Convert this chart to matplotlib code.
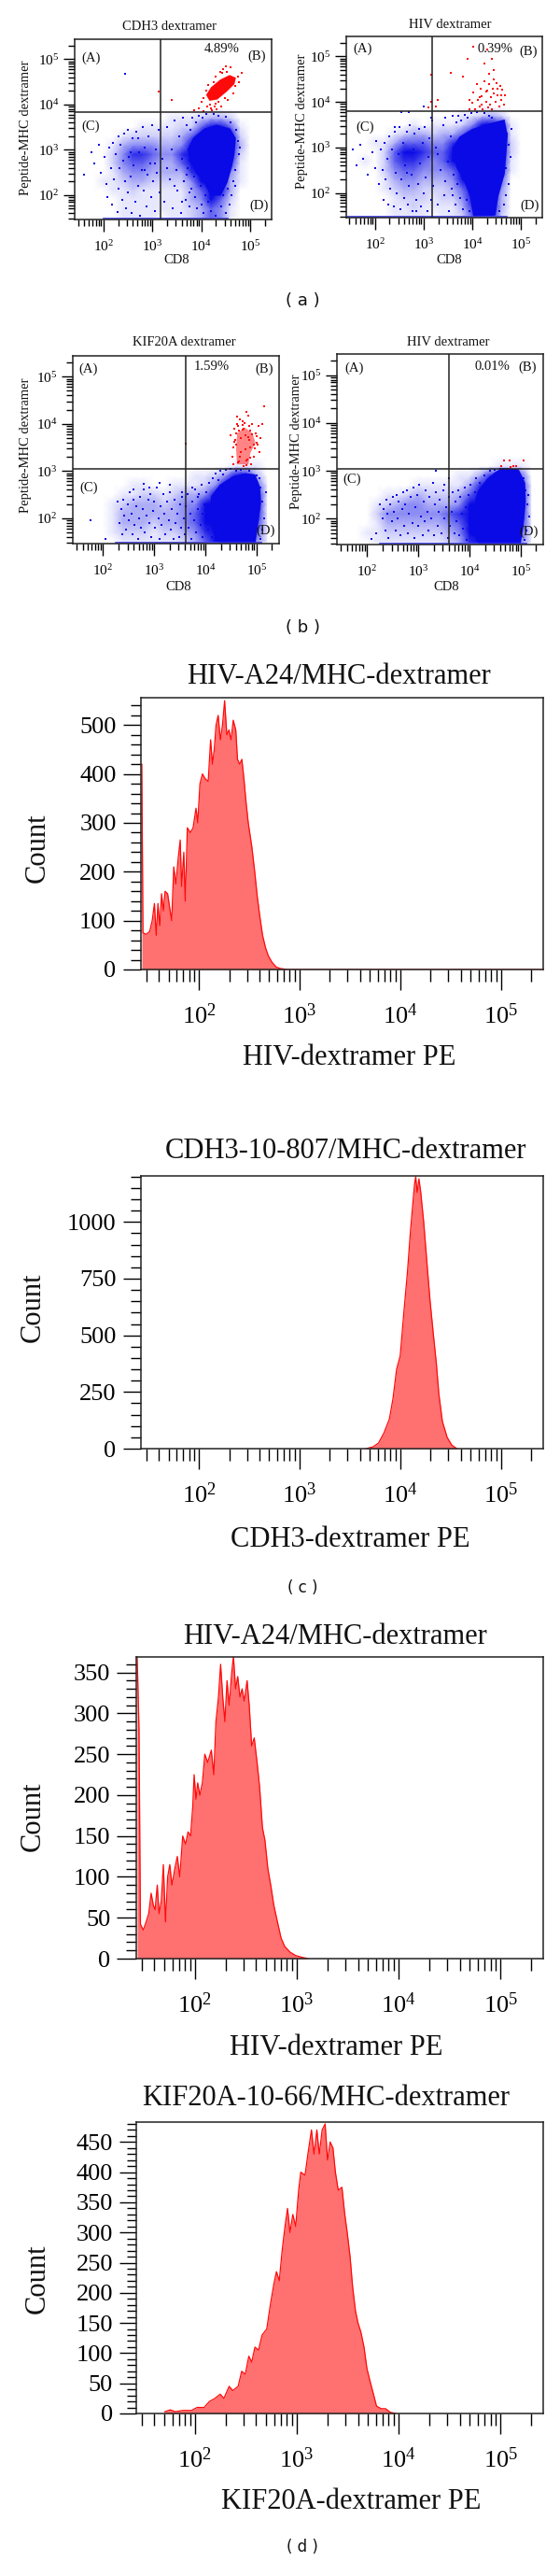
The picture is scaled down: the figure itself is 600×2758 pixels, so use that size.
import numpy as np
import matplotlib
matplotlib.use('Agg')
import matplotlib.pyplot as plt
from matplotlib.colors import LinearSegmentedColormap
from matplotlib.ticker import FixedLocator, NullFormatter

plt.rcParams['font.family'] = ['Liberation Serif', 'DejaVu Serif']
plt.rcParams['mathtext.fontset'] = 'custom'
plt.rcParams['mathtext.rm'] = 'Liberation Serif'
plt.rcParams['mathtext.default'] = 'regular'

W, H = 600, 2758
BLUE = '#0a0ae6'
RED = '#ff0a0a'

# ---- scatter data, all positions in log10 units ----
# density of the blue population, 0 (empty) to 9 (solid), estimated by eye
grid_x = [1.6, 1.8, 2.0, 2.2, 2.4, 2.6, 2.8, 3.0, 3.2, 3.4, 3.6, 3.8, 4.0, 4.2, 4.4, 4.6, 4.8, 5.0, 5.2]
grid_y = [1.5, 1.7, 1.9, 2.1, 2.3, 2.5, 2.7, 2.9, 3.1, 3.3, 3.5, 3.7, 3.9]
a1_density = [
    [0, 0, 0, 0, 1, 1, 1, 1, 0, 1, 1, 2, 3, 5, 4, 1, 0, 0, 0],
    [0, 0, 0, 0, 1, 1, 1, 1, 1, 1, 1, 2, 3, 5, 4, 1, 0, 0, 0],
    [0, 0, 0, 0, 1, 1, 1, 1, 1, 1, 1, 3, 4, 7, 5, 2, 0, 0, 0],
    [0, 0, 0, 1, 1, 2, 1, 1, 1, 1, 1, 3, 5, 9, 8, 3, 0, 0, 0],
    [0, 0, 1, 1, 2, 3, 3, 2, 2, 2, 2, 4, 7, 9, 9, 3, 1, 0, 0],
    [0, 0, 0, 1, 3, 4, 4, 3, 3, 3, 3, 6, 9, 9, 9, 4, 1, 0, 0],
    [0, 0, 0, 2, 4, 5, 5, 4, 3, 3, 5, 9, 9, 9, 9, 6, 1, 0, 0],
    [0, 0, 0, 2, 4, 6, 6, 5, 4, 4, 6, 9, 9, 9, 9, 8, 2, 0, 0],
    [0, 0, 0, 1, 3, 4, 4, 4, 3, 3, 4, 8, 9, 9, 9, 9, 3, 0, 0],
    [0, 0, 0, 0, 1, 2, 2, 2, 2, 2, 3, 5, 9, 9, 9, 9, 2, 0, 0],
    [0, 0, 0, 0, 0, 0, 1, 1, 1, 1, 2, 2, 5, 9, 9, 5, 1, 0, 0],
    [0, 0, 0, 0, 0, 0, 0, 0, 0, 1, 1, 1, 2, 3, 3, 2, 0, 0, 0],
    [0, 0, 0, 0, 0, 0, 0, 0, 0, 0, 0, 0, 0, 0, 0, 0, 0, 0, 0],
]
a2_density = [
    [0, 0, 0, 0, 1, 1, 1, 1, 0, 1, 1, 2, 5, 8, 7, 2, 0, 0, 0],
    [0, 0, 0, 0, 1, 1, 2, 1, 1, 1, 1, 3, 6, 9, 8, 3, 0, 0, 0],
    [0, 0, 0, 0, 1, 2, 2, 2, 1, 2, 2, 4, 7, 9, 9, 3, 0, 0, 0],
    [0, 0, 0, 1, 2, 3, 3, 2, 2, 2, 3, 5, 9, 9, 9, 4, 0, 0, 0],
    [0, 0, 0, 1, 3, 4, 4, 3, 3, 3, 4, 7, 9, 9, 9, 5, 0, 0, 0],
    [0, 0, 0, 2, 4, 5, 5, 4, 4, 4, 5, 9, 9, 9, 9, 6, 1, 0, 0],
    [0, 1, 0, 2, 5, 6, 6, 5, 4, 5, 7, 9, 9, 9, 9, 8, 1, 0, 0],
    [0, 0, 0, 2, 5, 7, 7, 6, 5, 5, 7, 9, 9, 9, 9, 9, 2, 0, 0],
    [0, 0, 1, 1, 3, 5, 5, 5, 4, 4, 6, 8, 9, 9, 9, 9, 2, 0, 0],
    [0, 0, 0, 0, 1, 2, 3, 3, 2, 3, 3, 5, 9, 9, 9, 9, 1, 0, 0],
    [0, 0, 0, 0, 0, 0, 1, 0, 1, 1, 1, 2, 4, 8, 9, 6, 1, 0, 0],
    [0, 0, 0, 0, 0, 0, 0, 0, 0, 0, 0, 1, 1, 2, 3, 2, 0, 0, 0],
    [0, 0, 0, 0, 0, 0, 0, 0, 0, 0, 0, 0, 0, 0, 0, 0, 0, 0, 0],
]
b1_density = [
    [0, 0, 0, 0, 1, 1, 1, 1, 1, 1, 2, 3, 5, 9, 9, 9, 9, 4, 1],
    [0, 0, 0, 1, 2, 2, 2, 1, 2, 2, 3, 4, 6, 9, 9, 9, 9, 5, 1],
    [0, 0, 0, 1, 3, 3, 3, 2, 3, 3, 4, 5, 7, 9, 9, 9, 9, 6, 1],
    [0, 0, 0, 1, 3, 3, 3, 3, 3, 3, 4, 5, 8, 9, 9, 9, 9, 7, 1],
    [0, 0, 0, 1, 2, 3, 3, 3, 2, 3, 4, 4, 7, 9, 9, 9, 9, 8, 1],
    [0, 0, 0, 0, 1, 1, 2, 2, 1, 2, 3, 3, 4, 8, 9, 9, 9, 7, 1],
    [0, 0, 0, 0, 0, 1, 1, 0, 0, 1, 1, 1, 2, 4, 9, 9, 9, 5, 1],
    [0, 0, 0, 0, 0, 0, 0, 0, 0, 0, 0, 1, 1, 2, 4, 9, 9, 3, 0],
    [0, 0, 0, 0, 0, 0, 0, 0, 0, 0, 0, 0, 0, 0, 0, 1, 1, 1, 0],
    [0, 0, 0, 0, 0, 0, 0, 0, 0, 0, 0, 0, 0, 0, 0, 0, 0, 0, 0],
    [0, 0, 0, 0, 0, 0, 0, 0, 0, 0, 0, 0, 0, 0, 0, 0, 0, 0, 0],
    [0, 0, 0, 0, 0, 0, 0, 0, 0, 0, 0, 0, 0, 0, 0, 0, 0, 0, 0],
    [0, 0, 0, 0, 0, 0, 0, 0, 0, 0, 0, 0, 0, 0, 0, 0, 0, 0, 0],
]
b2_density = [
    [0, 0, 0, 1, 1, 1, 1, 1, 1, 1, 2, 3, 6, 9, 9, 9, 9, 4, 1],
    [0, 0, 1, 1, 2, 2, 2, 2, 2, 2, 3, 4, 7, 9, 9, 9, 9, 5, 1],
    [0, 0, 0, 1, 3, 3, 3, 3, 3, 3, 4, 5, 8, 9, 9, 9, 9, 6, 1],
    [0, 0, 0, 2, 4, 4, 4, 4, 4, 4, 5, 6, 9, 9, 9, 9, 9, 7, 1],
    [0, 0, 0, 1, 2, 3, 4, 4, 3, 3, 3, 4, 8, 9, 9, 9, 9, 8, 1],
    [0, 0, 0, 0, 1, 1, 2, 3, 2, 2, 2, 3, 5, 9, 9, 9, 9, 7, 1],
    [0, 0, 0, 0, 0, 0, 0, 1, 1, 1, 1, 1, 3, 6, 9, 9, 9, 6, 1],
    [0, 0, 0, 0, 0, 0, 0, 0, 0, 0, 0, 1, 1, 3, 6, 9, 9, 5, 0],
    [0, 0, 0, 0, 0, 0, 0, 0, 0, 0, 0, 0, 0, 0, 0, 1, 1, 1, 0],
    [0, 0, 0, 0, 0, 0, 0, 0, 0, 0, 0, 0, 0, 0, 0, 0, 0, 0, 0],
    [0, 0, 0, 0, 0, 0, 0, 0, 0, 0, 0, 0, 0, 0, 0, 0, 0, 0, 0],
    [0, 0, 0, 0, 0, 0, 0, 0, 0, 0, 0, 0, 0, 0, 0, 0, 0, 0, 0],
    [0, 0, 0, 0, 0, 0, 0, 0, 0, 0, 0, 0, 0, 0, 0, 0, 0, 0, 0],
]

a1_blob_x = [4.32, 4.58, 4.69, 4.66, 4.61, 4.52, 4.39, 4.20, 4.07, 3.91, 3.78, 3.74, 3.85, 4.07]
a1_blob_y = [3.53, 3.45, 3.25, 2.90, 2.63, 2.29, 2.01, 2.01, 2.29, 2.49, 2.77, 3.01, 3.25, 3.45]
a1_dots_x = [1.60, 1.75, 1.82, 1.90, 1.95, 2.02, 2.05, 2.08, 2.12, 2.15, 2.18, 2.20, 2.22, 2.25, 2.28, 2.30, 2.30, 2.33, 2.35,
             2.38, 2.40, 2.42, 2.45, 2.46, 2.50, 2.50, 2.52, 2.55, 2.58, 2.60, 2.62, 2.65, 2.68, 2.70, 2.72, 2.75, 2.78, 2.80,
             2.82, 2.85, 2.88, 2.90, 2.92, 2.95, 2.98, 3.00, 3.02, 3.05, 3.08, 3.10, 3.12, 3.15, 3.20, 3.25, 3.30, 3.35, 3.40,
             3.42, 3.45, 3.50, 3.52, 3.55, 3.58, 3.60, 3.62, 3.65, 3.68, 3.70, 3.72, 3.75, 3.78, 3.80, 3.82, 3.85, 3.88, 3.90,
             3.92, 3.95, 3.98, 4.00, 4.02, 4.05, 4.08, 4.10, 4.15, 4.20, 4.25, 4.30, 4.35, 4.40, 4.45, 4.50, 4.55, 4.60, 4.65,
             4.70, 4.72, 4.75, 4.78, 4.80, 4.70, 4.62, 4.58, 4.50, 3.30, 3.45, 3.60, 3.70, 3.75, 2.55, 2.70, 2.85, 3.05, 2.45]
a1_dots_y = [2.45, 2.95, 2.70, 3.10, 2.50, 2.85, 2.25, 1.95, 3.05, 2.60, 1.80, 3.15, 2.35, 2.90, 1.62, 3.30, 2.15, 2.60, 3.10,
             1.90, 2.75, 3.35, 2.30, 1.70, 3.45, 2.05, 2.85, 2.40, 1.60, 3.25, 2.65, 1.85, 3.40, 2.20, 2.95, 1.55, 2.55, 3.50,
             2.10, 3.05, 1.75, 2.45, 3.30, 2.70, 1.95, 3.55, 2.30, 1.65, 3.00, 2.50, 3.45, 2.05, 2.80, 1.85, 3.50, 2.35, 3.00,
             1.70, 3.65, 2.55, 2.10, 3.30, 1.60, 2.80, 3.70, 2.30, 1.90, 3.55, 2.60, 1.75, 3.45, 2.15, 3.70, 2.40, 1.95, 3.60,
             1.70, 3.75, 2.20, 1.80, 3.70, 1.60, 2.00, 3.78, 1.85, 1.65, 3.80, 1.55, 3.75, 1.75, 2.00, 3.72, 2.15, 3.60, 2.30,
             2.55, 3.45, 3.20, 2.90, 3.05, 2.20, 2.00, 1.80, 1.60, 2.60, 2.20, 1.85, 2.45, 2.05, 2.95, 3.25, 2.55, 2.70, 4.68]
a1_red_blob_x = [4.10, 4.20, 4.39, 4.58, 4.71, 4.68, 4.52, 4.33, 4.17]
a1_red_blob_y = [4.21, 4.38, 4.55, 4.65, 4.59, 4.45, 4.28, 4.11, 4.08]
a1_red_x = [3.13, 3.40, 3.85, 3.95, 4.00, 4.05, 4.10, 4.12, 4.15, 4.18, 4.22, 4.25, 4.28, 4.30, 4.32, 4.35, 4.38, 4.40, 4.45, 4.48,
            4.52, 4.55, 4.60, 4.65, 4.70, 4.75, 4.78, 4.82, 4.05, 4.20, 4.30, 4.42, 4.50]
a1_red_y = [4.28, 4.10, 3.87, 3.92, 4.05, 3.85, 4.30, 3.95, 4.42, 4.00, 3.88, 4.50, 3.95, 4.62, 3.90, 4.05, 4.72, 3.95, 4.78, 4.15,
            4.72, 4.10, 4.82, 4.25, 4.40, 4.62, 4.50, 4.70, 4.15, 3.92, 4.02, 4.70, 4.85]
a1_floor = [2.0, 4.55]

a2_blob_x = [4.33, 4.65, 4.71, 4.68, 4.65, 4.52, 4.46, 4.04, 3.97, 3.85, 3.69, 3.61, 3.75, 4.01]
a2_blob_y = [3.50, 3.59, 3.26, 2.84, 2.43, 1.94, 1.53, 1.50, 1.94, 2.26, 2.57, 2.98, 3.22, 3.39]
a2_dots_x = [1.55, 1.62, 1.70, 1.75, 1.85, 1.95, 2.00, 2.02, 2.08, 2.12, 2.15, 2.18, 2.20, 2.22, 2.25, 2.28, 2.30, 2.32, 2.35,
             2.38, 2.40, 2.42, 2.45, 2.48, 2.50, 2.52, 2.55, 2.58, 2.60, 2.62, 2.65, 2.68, 2.70, 2.72, 2.75, 2.78, 2.80, 2.82,
             2.85, 2.88, 2.90, 2.92, 2.95, 2.98, 3.00, 3.02, 3.05, 3.08, 3.10, 3.12, 3.15, 3.18, 3.20, 3.25, 3.30, 3.35, 3.40,
             3.42, 3.45, 3.50, 3.52, 3.55, 3.58, 3.60, 3.62, 3.65, 3.68, 3.70, 3.72, 3.75, 3.78, 3.80, 3.82, 3.85, 3.88, 3.90,
             3.92, 3.95, 3.98, 4.00, 4.05, 4.10, 4.15, 4.20, 4.25, 4.30, 4.35, 4.40, 4.45, 4.50, 4.55, 4.60, 4.65, 4.70, 4.72,
             4.75, 4.78, 4.80, 4.74, 4.70, 3.15, 3.30, 3.45, 3.60, 2.55, 2.70, 2.85, 3.00, 2.40, 2.65]
a2_dots_y = [2.95, 2.60, 3.05, 2.75, 2.40, 2.90, 2.55, 3.15, 2.20, 2.95, 2.50, 1.85, 3.10, 2.30, 2.75, 1.75, 3.25, 2.10, 2.95,
             1.70, 3.35, 2.45, 2.00, 2.85, 3.45, 1.65, 2.30, 3.10, 1.90, 2.60, 3.35, 1.75, 2.15, 3.50, 2.40, 1.60, 2.95, 3.30,
             1.85, 2.20, 3.40, 2.65, 1.70, 3.10, 2.00, 3.45, 2.35, 1.60, 2.80, 3.20, 1.85, 3.60, 2.15, 3.00, 1.75, 2.50, 3.50,
             1.95, 3.65, 2.70, 1.60, 3.25, 2.10, 3.70, 2.40, 1.75, 3.55, 2.20, 3.70, 1.90, 3.60, 1.65, 2.35, 3.72, 1.85, 3.65,
             2.10, 1.60, 3.75, 1.85, 1.65, 3.78, 1.95, 1.60, 3.75, 1.80, 3.70, 3.65, 1.75, 2.00, 1.60, 2.25, 1.75, 2.55, 3.30,
             3.05, 2.80, 3.40, 2.20, 1.95, 3.65, 2.85, 2.25, 1.95, 3.78, 3.78, 1.60, 3.90, 3.45, 2.45]
a2_red_x = [3.10, 3.15, 3.25, 3.30, 3.55, 3.80, 3.95, 3.90, 3.95, 4.00, 4.02, 4.05, 4.10, 4.12, 4.15, 4.18, 4.20, 4.22, 4.25, 4.28,
            4.30, 4.32, 4.35, 4.38, 4.40, 4.42, 4.45, 4.48, 4.50, 4.52, 4.55, 4.58, 4.60, 4.62, 4.65, 4.68, 4.35, 4.25, 4.30, 4.40,
            4.02, 3.15, 4.15, 4.20, 4.28, 4.36, 4.44, 4.52, 4.60, 4.45]
a2_red_y = [3.88, 4.00, 3.90, 4.05, 4.65, 4.55, 4.05, 4.95, 3.85, 3.98, 4.20, 3.85, 4.40, 4.05, 3.90, 4.30, 4.12, 3.85, 4.45, 4.00,
            4.25, 3.88, 4.40, 4.10, 3.85, 4.30, 4.50, 4.00, 4.42, 4.15, 3.90, 4.35, 4.05, 4.28, 3.95, 4.15, 4.62, 4.85, 5.15, 4.95,
            5.22, 4.60, 4.10, 3.95, 4.22, 3.95, 4.18, 4.30, 4.15, 4.70]
a2_floor = [1.42, 4.72]

b1_blob_x = [4.77, 4.96, 5.05, 5.07, 5.02, 4.96, 4.29, 4.18, 4.10, 4.13, 4.29, 4.53]
b1_blob_y = [2.93, 2.91, 2.66, 2.33, 1.93, 1.47, 1.47, 1.67, 2.07, 2.46, 2.69, 2.86]
b1_dots_x = [1.75, 2.05, 2.28, 2.32, 2.35, 2.38, 2.40, 2.42, 2.45, 2.48, 2.50, 2.52, 2.55, 2.58, 2.60, 2.62, 2.65, 2.68, 2.70,
             2.72, 2.75, 2.78, 2.80, 2.82, 2.85, 2.88, 2.90, 2.92, 2.95, 2.98, 3.00, 3.02, 3.05, 3.08, 3.10, 3.12, 3.15, 3.18,
             3.20, 3.22, 3.25, 3.28, 3.30, 3.32, 3.35, 3.38, 3.40, 3.42, 3.45, 3.48, 3.50, 3.52, 3.55, 3.58, 3.60, 3.62, 3.65,
             3.68, 3.70, 3.72, 3.75, 3.78, 3.80, 3.82, 3.85, 3.88, 3.90, 3.92, 3.95, 3.98, 4.00, 4.02, 4.05, 4.08, 4.10, 4.12,
             4.15, 4.18, 4.20, 4.25, 4.30, 4.35, 4.40, 4.50, 4.60, 4.70, 4.85, 5.00, 5.08, 5.12, 5.15, 5.18, 5.12, 5.08, 5.05,
             3.85, 3.95, 4.10, 2.90, 3.10, 3.30, 3.55, 3.75, 2.60, 2.80]
b1_dots_y = [1.95, 1.55, 2.35, 1.90, 2.20, 1.65, 2.40, 2.05, 1.75, 2.30, 1.95, 2.55, 2.10, 1.65, 2.40, 1.85, 2.25, 1.55, 2.00,
             2.45, 1.80, 2.20, 2.60, 1.70, 2.05, 2.40, 1.90, 2.50, 1.60, 2.15, 2.35, 1.80, 2.65, 2.00, 1.55, 2.25, 1.85, 2.50,
             2.10, 1.65, 2.35, 1.95, 2.55, 1.75, 2.20, 1.55, 2.40, 1.90, 2.10, 1.60, 2.30, 1.80, 2.45, 2.00, 1.65, 2.25, 2.50,
             1.80, 2.10, 1.55, 2.35, 1.95, 2.60, 1.70, 2.20, 2.50, 1.85, 2.70, 1.60, 2.30, 2.05, 2.55, 1.75, 2.75, 2.25, 1.60,
             2.85, 2.00, 2.95, 2.80, 3.00, 2.92, 3.02, 3.05, 3.00, 3.03, 3.00, 2.90, 2.65, 2.35, 2.00, 2.55, 1.75, 1.55, 2.85,
             2.45, 2.10, 1.85, 2.65, 2.75, 2.70, 2.55, 2.65, 2.60, 2.72]
b1_red_blob_x = [4.62, 4.77, 4.92, 4.98, 4.88, 4.84, 4.62, 4.60]
b1_red_blob_y = [3.80, 3.92, 3.80, 3.60, 3.38, 3.14, 3.14, 3.45]
b1_red_x = [3.62, 4.50, 4.52, 4.55, 4.57, 4.60, 4.62, 4.65, 4.68, 4.70, 4.72, 4.75, 4.78, 4.80, 4.82, 4.85, 4.88, 4.90, 4.92, 4.95,
            4.98, 5.00, 5.03, 5.06, 5.08, 5.12, 5.15, 4.62, 4.70, 4.78, 4.86, 4.94, 4.66, 4.74, 4.58, 4.84,
            4.54, 4.56, 4.60, 4.64, 4.68, 4.72, 4.76, 4.80, 4.84, 4.88, 4.92, 4.96, 5.00, 5.02, 4.64, 4.72, 4.80, 4.88]
b1_red_y = [3.58, 3.75, 3.30, 3.15, 3.90, 3.55, 4.00, 3.20, 4.10, 3.40, 4.05, 3.10, 3.75, 4.25, 3.25, 3.95, 3.50, 3.15, 4.00, 3.30,
            3.80, 3.60, 3.95, 3.40, 3.70, 4.00, 4.38, 4.15, 3.70, 3.45, 3.65, 3.55, 3.85, 3.90, 3.65, 4.18,
            3.50, 3.62, 3.80, 3.95, 3.30, 3.88, 4.02, 3.12, 3.72, 3.28, 3.78, 3.48, 3.74, 3.55, 3.18, 3.98, 3.22, 3.85]
b1_floor = [2.25, 5.10]

b2_blob_x = [4.65, 4.95, 5.07, 5.08, 5.04, 4.98, 4.20, 4.11, 4.08, 4.17, 4.35, 4.53]
b2_blob_y = [3.04, 3.01, 2.74, 2.35, 1.89, 1.46, 1.46, 1.69, 2.15, 2.55, 2.81, 2.97]
b2_dots_x = [2.08, 2.18, 2.25, 2.30, 2.32, 2.35, 2.38, 2.40, 2.42, 2.45, 2.48, 2.50, 2.52, 2.55, 2.58, 2.60, 2.62, 2.65, 2.68,
             2.70, 2.72, 2.75, 2.78, 2.80, 2.82, 2.85, 2.88, 2.90, 2.92, 2.95, 2.98, 3.00, 3.02, 3.05, 3.08, 3.10, 3.12, 3.15,
             3.18, 3.20, 3.22, 3.25, 3.28, 3.30, 3.32, 3.35, 3.38, 3.40, 3.42, 3.45, 3.48, 3.50, 3.55, 3.58, 3.60, 3.62, 3.65,
             3.68, 3.70, 3.72, 3.75, 3.78, 3.80, 3.82, 3.85, 3.88, 3.90, 3.92, 3.95, 3.98, 4.00, 4.02, 4.05, 4.08, 4.10, 4.12,
             4.15, 4.20, 4.25, 4.30, 4.40, 4.50, 4.60, 4.75, 4.90, 5.05, 5.10, 5.13, 5.16, 5.12, 5.08, 5.14, 3.35, 3.50, 3.60]
b2_dots_y = [1.58, 1.70, 2.30, 2.00, 2.20, 1.75, 2.40, 2.10, 1.60, 2.30, 1.95, 2.45, 2.15, 1.75, 2.50, 2.00, 2.35, 1.65, 2.20,
             2.55, 1.85, 2.30, 2.60, 1.70, 2.10, 2.45, 1.90, 2.65, 1.60, 2.25, 2.50, 1.85, 2.70, 2.05, 1.65, 2.35, 1.95, 2.60,
             2.15, 1.75, 2.45, 2.00, 2.75, 1.65, 2.30, 2.55, 1.85, 2.15, 2.40, 1.70, 2.60, 2.00, 2.25, 1.60, 2.45, 1.85, 2.15,
             2.55, 1.70, 2.35, 1.95, 2.60, 1.65, 2.45, 2.10, 1.80, 2.65, 2.25, 1.55, 2.50, 1.90, 2.70, 2.20, 1.65, 2.55, 2.85,
             2.05, 2.75, 1.90, 2.90, 3.00, 3.02, 3.05, 3.04, 3.03, 2.85, 2.60, 2.30, 2.05, 1.75, 1.55, 2.50, 3.00, 2.70, 2.85]
b2_red_x = [4.68, 4.80, 4.78, 4.92, 5.05, 4.86, 4.62]
b2_red_y = [3.22, 3.08, 3.22, 3.10, 3.22, 3.10, 3.10]
b2_floor = [2.25, 5.12]

# ---- histogram data: log10 of PE signal, and counts ----
h1_x = [1.434, 1.445, 1.477, 1.512, 1.537, 1.559, 1.577, 1.594, 1.612, 1.63, 1.648, 1.665, 1.69, 1.708, 1.73, 1.751, 1.772, 1.794,
        1.815, 1.829, 1.851, 1.865, 1.886, 1.915, 1.943, 1.972, 1.989, 2.011, 2.036, 2.064, 2.093, 2.117, 2.135, 2.153, 2.171,
        2.192, 2.214, 2.235, 2.256, 2.278, 2.299, 2.32, 2.342, 2.367, 2.384, 2.406, 2.427, 2.448, 2.47, 2.491, 2.527, 2.555,
        2.58, 2.605, 2.633, 2.662, 2.69, 2.726, 2.769, 2.811, 2.883, 5.44]
h1_y = [420, 75, 72, 78, 100, 135, 70, 135, 90, 155, 120, 160, 155, 130, 100, 210, 175, 225, 265, 170, 240, 140, 290, 280, 290,
        330, 300, 380, 400, 390, 385, 470, 420, 450, 500, 520, 470, 500, 550, 480, 490, 470, 510, 490, 430, 420, 430, 390, 340,
        300, 250, 200, 150, 110, 70, 45, 28, 15, 5, 2, 0, 0]
h2_x = [3.659, 3.731, 3.785, 3.839, 3.892, 3.928, 3.964, 4.0, 4.036, 4.072, 4.1, 4.125, 4.143, 4.154, 4.168, 4.186, 4.204, 4.233,
        4.269, 4.297, 4.33, 4.358, 4.384, 4.419, 4.466, 4.513, 4.563]
h2_y = [0, 8, 25, 70, 130, 220, 350, 410, 600, 780, 950, 1080, 1170, 1200, 1130, 1190, 1130, 1000, 800, 650, 500, 380, 240, 120,
        50, 15, 0]
h3_x = [1.434, 1.452, 1.466, 1.494, 1.522, 1.547, 1.571, 1.593, 1.61, 1.631, 1.649, 1.67, 1.691, 1.712, 1.733, 1.754, 1.775, 1.803,
        1.828, 1.852, 1.881, 1.909, 1.933, 1.958, 1.979, 1.993, 2.011, 2.028, 2.049, 2.074, 2.098, 2.126, 2.162, 2.186, 2.207,
        2.232, 2.253, 2.274, 2.295, 2.316, 2.337, 2.362, 2.379, 2.4, 2.421, 2.443, 2.464, 2.485, 2.513, 2.534, 2.558, 2.583,
        2.611, 2.636, 2.664, 2.688, 2.717, 2.745, 2.776, 2.811, 2.847, 2.882, 2.934, 2.987, 3.04, 3.11]
h3_y = [370, 280, 42, 35, 45, 55, 80, 65, 60, 90, 55, 70, 115, 45, 100, 115, 90, 110, 125, 100, 150, 140, 155, 150, 185, 225, 195,
        215, 200, 215, 250, 240, 255, 225, 290, 320, 360, 320, 290, 340, 310, 350, 370, 330, 345, 320, 330, 315, 340, 310, 260,
        270, 240, 210, 160, 145, 110, 90, 65, 45, 25, 15, 8, 4, 2, 0]
h4_x = [1.705, 1.758, 1.81, 1.881, 1.968, 2.021, 2.091, 2.144, 2.197, 2.249, 2.285, 2.337, 2.372, 2.425, 2.46, 2.495, 2.53, 2.558,
        2.59, 2.625, 2.66, 2.706, 2.741, 2.776, 2.801, 2.829, 2.857, 2.885, 2.91, 2.934, 2.962, 2.99, 3.019, 3.04, 3.082, 3.11,
        3.145, 3.17, 3.198, 3.222, 3.25, 3.279, 3.303, 3.328, 3.356, 3.38, 3.408, 3.444, 3.472, 3.496, 3.524, 3.549, 3.577,
        3.602, 3.63, 3.661, 3.689, 3.718, 3.749, 3.784, 3.83, 3.872, 3.918, 3.971]
h4_y = [3, 6, 3, 5, 5, 10, 10, 20, 25, 32, 25, 45, 38, 45, 70, 65, 95, 85, 110, 105, 130, 140, 180, 215, 235, 220, 270, 310, 340,
        300, 330, 310, 370, 400, 395, 430, 470, 430, 470, 430, 470, 480, 420, 450, 440, 400, 370, 375, 330, 300, 260, 210, 170,
        150, 135, 110, 75, 55, 35, 12, 8, 8, 2, 0]

fig = plt.figure(figsize=(W / 100, H / 100), dpi=100, facecolor='white')
density_cmap = LinearSegmentedColormap.from_list('dens', ['#ffffff', '#c8c8fa', '#7a7af2', BLUE, BLUE])


def fig_text(x, y, s, **kw):
    kw.setdefault('ha', 'center')
    kw.setdefault('va', 'center')
    kw.setdefault('color', '#111111')
    fig.text(x / W, 1 - y / H, s, **kw)


def make_axes(left, top, right, bottom):
    ax = fig.add_axes([left / W, 1 - bottom / H, (right - left) / W, (bottom - top) / H])
    for s in ax.spines.values():
        s.set_linewidth(1.1)
        s.set_color('#222222')
    return ax


def log_x_ticks(ax, major_len, minor_len, size, pad):
    ax.set_xscale('log')
    ax.xaxis.set_major_locator(FixedLocator([1e2, 1e3, 1e4, 1e5]))
    minors = [m * 10.0 ** d for d in range(1, 6) for m in range(2, 10)]
    ax.xaxis.set_minor_locator(FixedLocator(minors))
    ax.xaxis.set_minor_formatter(NullFormatter())
    ax.set_xticklabels(['$10^{%d}$' % d for d in [2, 3, 4, 5]], fontsize=size)
    ax.tick_params(axis='x', which='major', length=major_len, width=1, pad=pad)
    ax.tick_params(axis='x', which='minor', length=minor_len, width=1)


def flow_panel(box, density, blob, dots, floor, red_dots, red_blob, vline, hline, title, title_xy, xlab_xy, ylab_xy, labels):
    ax = make_axes(*box)
    log_x_ticks(ax, 9, 5, 11, 6)
    ax.set_yscale('log')
    ax.yaxis.set_major_locator(FixedLocator([1e2, 1e3, 1e4, 1e5]))
    ax.yaxis.set_minor_locator(FixedLocator([m * 10.0 ** d for d in range(1, 6) for m in range(2, 10)]))
    ax.yaxis.set_minor_formatter(NullFormatter())
    ax.set_yticklabels(['$10^{%d}$' % d for d in [2, 3, 4, 5]], fontsize=11)
    ax.tick_params(axis='y', which='major', length=9, width=1, pad=3)
    ax.tick_params(axis='y', which='minor', length=5, width=1)

    ax.pcolormesh(10 ** np.array(grid_x), 10 ** np.array(grid_y), np.array(density) / 9, shading='gouraud',
                  cmap=density_cmap, vmin=0, vmax=1, zorder=1)
    ax.fill(10 ** np.array(blob[0]), 10 ** np.array(blob[1]), color=BLUE, lw=1.5, zorder=2)
    ax.scatter(10 ** np.array(dots[0]), 10 ** np.array(dots[1]), s=2.5, marker='s', color=BLUE, linewidths=0, zorder=2)
    ax.plot(10 ** np.array(floor), [10 ** 1.475] * 2, color='#3a3af0', lw=1.2, zorder=2)
    if red_blob is not None:
        ax.fill(10 ** np.array(red_blob[0]), 10 ** np.array(red_blob[1]), color=RED, alpha=red_blob[2], lw=0, zorder=2)
    ax.scatter(10 ** np.array(red_dots[0]), 10 ** np.array(red_dots[1]), s=2.5, marker='s', color=RED, linewidths=0, zorder=2)
    ax.axvline(10 ** vline, color='#222222', lw=1.1, zorder=3)
    ax.axhline(10 ** hline, color='#222222', lw=1.1, zorder=3)
    ax.set_xlim(10 ** 1.41, 10 ** 5.44)
    ax.set_ylim(10 ** 1.46, 10 ** 5.44)

    fig_text(*title_xy, title, fontsize=10.5)
    fig_text(*xlab_xy, 'CD8', fontsize=10.5)
    fig_text(*ylab_xy, 'Peptide-MHC dextramer', fontsize=10.5, rotation=90)
    for (x, y, s) in labels:
        fig_text(x, y, s, fontsize=10.5)


def histogram(box, xs, ys, ymax, major, minor, title, title_xy, xlab, xlab_xy, ylab_xy, major_len=14):
    ax = make_axes(*box)
    log_x_ticks(ax, 16, 9, 19, 10)
    xv = 10 ** np.array(xs)
    ax.fill_between(xv, ys, 0, color='#ff7070', lw=0)
    ax.plot(xv, ys, color=RED, lw=0.9)
    ax.set_xlim(10 ** 1.425, 10 ** 5.42)
    ax.set_ylim(0, ymax)
    ax.yaxis.set_major_locator(FixedLocator(major))
    ax.yaxis.set_minor_locator(FixedLocator(minor))
    ax.tick_params(axis='y', which='major', length=major_len, width=1, pad=5, labelsize=19)
    ax.tick_params(axis='y', which='minor', length=major_len * 0.55, width=1)
    fig_text(*title_xy, title, fontsize=22)
    fig_text(*xlab_xy, xlab, fontsize=22)
    fig_text(*ylab_xy, 'Count', fontsize=22, rotation=90)


flow_panel((80, 42, 291, 235), a1_density, (a1_blob_x, a1_blob_y), (a1_dots_x, a1_dots_y), a1_floor,
           (a1_red_x, a1_red_y), (a1_red_blob_x, a1_red_blob_y, 1.0), 3.17, 3.83,
           'CDH3 dextramer', (181, 29), (189, 279), (28, 137),
           [(98, 62, '(A)'), (275, 60, '(B)'), (97, 135, '(C)'), (278, 220, '(D)'), (238, 52, '4.89%')])
flow_panel((371, 39, 581, 233), a2_density, (a2_blob_x, a2_blob_y), (a2_dots_x, a2_dots_y), a2_floor,
           (a2_red_x, a2_red_y), None, 3.17, 3.79,
           'HIV dextramer', (482, 27), (481, 278), (323, 130),
           [(389, 52, '(A)'), (566, 55, '(B)'), (391, 136, '(C)'), (568, 220, '(D)'), (530, 53, '0.39%')])
flow_panel((78, 381, 299, 582), b1_density, (b1_blob_x, b1_blob_y), (b1_dots_x, b1_dots_y), b1_floor,
           (b1_red_x, b1_red_y), (b1_red_blob_x, b1_red_blob_y, 0.5), 3.62, 3.05,
           'KIF20A dextramer', (197, 366), (191, 629), (28, 477),
           [(95, 395, '(A)'), (283, 395, '(B)'), (95, 522, '(C)'), (285, 568, '(D)'), (227, 393, '1.59%')])
flow_panel((361, 379, 582, 583), b2_density, (b2_blob_x, b2_blob_y), (b2_dots_x, b2_dots_y), b2_floor,
           (b2_red_x, b2_red_y), None, 3.60, 3.05,
           'HIV dextramer', (480, 367), (478, 629), (318, 473),
           [(380, 394, '(A)'), (565, 393, '(B)'), (377, 513, '(C)'), (567, 569, '(D)'), (527, 392, '0.01%')])

histogram((151, 747, 582, 1038), h1_x, h1_y, 556, range(0, 501, 100), range(0, 556, 20),
          'HIV-A24/MHC-dextramer', (363, 725), 'HIV-dextramer PE', (374, 1133), (40, 908))
histogram((151, 1259, 582, 1551), h2_x, h2_y, 1203, range(0, 1001, 250), range(0, 1201, 50),
          'CDH3-10-807/MHC-dextramer', (370, 1233), 'CDH3-dextramer PE', (375, 1648), (35, 1400))
histogram((146, 1774, 582, 2097), h3_x, h3_y, 369, range(0, 351, 50), range(0, 369, 10),
          'HIV-A24/MHC-dextramer', (359, 1752), 'HIV-dextramer PE', (360, 2193), (35, 1945), major_len=15)
histogram((146, 2272, 582, 2584), h4_x, h4_y, 483, range(0, 451, 50), range(0, 483, 10),
          'KIF20A-10-66/MHC-dextramer', (349, 2246), 'KIF20A-dextramer PE', (376, 2678), (40, 2440), major_len=13)

for (x, y, s, fs) in [(324, 322, '( a )', 13), (324, 672, '( b )', 13), (324, 1700, '( c )', 12), (324, 2727, '( d )', 12)]:
    fig_text(x, y, s, fontsize=fs, family='DejaVu Sans')

fig.savefig('out.png', dpi=100)
